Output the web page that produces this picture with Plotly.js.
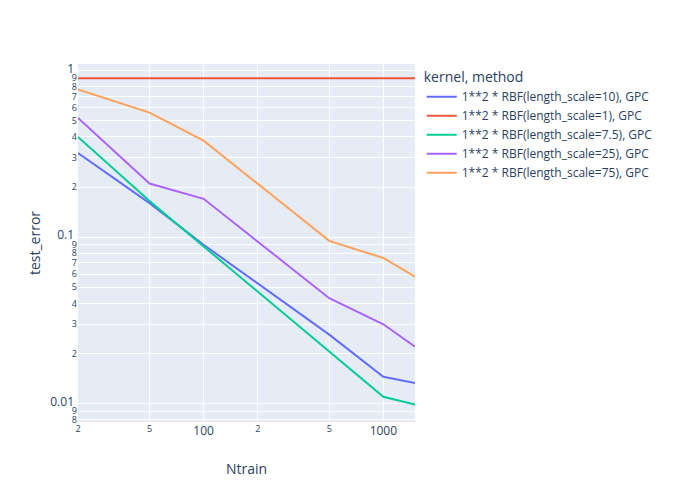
<html><head><script src="https://cdn.plot.ly/plotly-3.0.0.min.js"></script></head>
<body style="margin:0"><div id="plot" style="width:700px;height:500px"></div>
<script>
var ntrain = [20, 50, 100, 500, 1000, 1500];
var names = ["1**2 * RBF(length_scale=10), GPC", "1**2 * RBF(length_scale=1), GPC",
  "1**2 * RBF(length_scale=7.5), GPC", "1**2 * RBF(length_scale=25), GPC", "1**2 * RBF(length_scale=75), GPC"];
var colors = ["#636efa", "#EF553B", "#00cc96", "#ab63fa", "#FFA15A"];
var err10 = [0.32, 0.16, 0.09, 0.026, 0.0145, 0.0133];
var err1 = [0.9, 0.9, 0.9, 0.9, 0.9, 0.9];
var err75b = [0.40, 0.165, 0.088, 0.0205, 0.011, 0.0099];
var err25 = [0.52, 0.21, 0.17, 0.043, 0.03, 0.022];
var err75 = [0.77, 0.56, 0.38, 0.095, 0.075, 0.058];
var series = [err10, err1, err75b, err25, err75];

var data = series.map((s, i) => ({
  x: ntrain, y: s, name: names[i], mode: "lines", type: "scatter",
  line: {color: colors[i], width: 2}
}));

var layout = {
  width: 700, height: 500,
  margin: {l: 78, r: 285, t: 64, b: 78},
  paper_bgcolor: "white", plot_bgcolor: "#E5ECF6",
  font: {family: "Open Sans, sans-serif", color: "#2a3f5f"},
  xaxis: {type: "log", range: [Math.log10(20), Math.log10(1500)], title: {text: "Ntrain"},
    gridcolor: "white", zeroline: false},
  yaxis: {type: "log", range: [-2.11, 0.04], title: {text: "test_error"},
    gridcolor: "white", zeroline: false},
  legend: {title: {text: "kernel, method"}}
};
Plotly.newPlot("plot", data, layout, {displayModeBar: false});
</script></body></html>
